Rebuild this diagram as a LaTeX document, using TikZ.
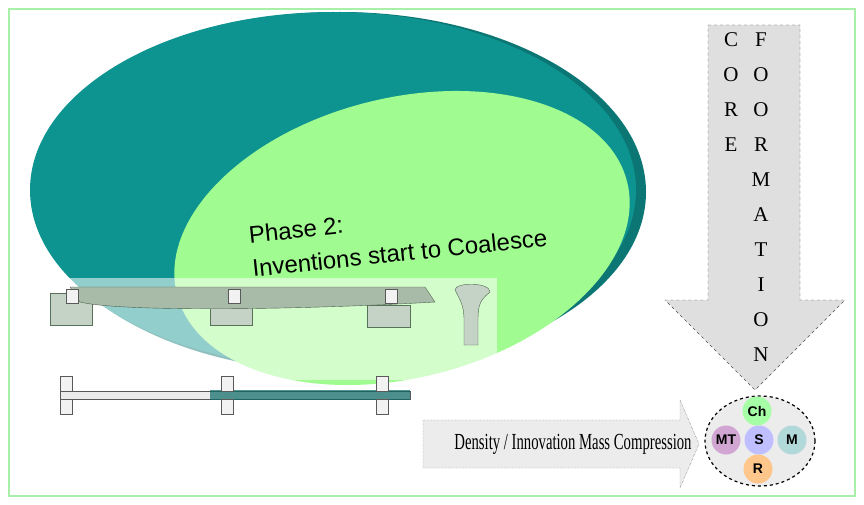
\documentclass[tikz,border=0pt]{standalone}
\usepackage{fontspec}
\setmainfont{Liberation Serif}
\setsansfont{Liberation Sans}
\usetikzlibrary{shapes.geometric,positioning}
\definecolor{frameg}{HTML}{A8F0A8}
\definecolor{tealc}{HTML}{0E9490}
\definecolor{lgreen}{HTML}{A0FC90}
\definecolor{railg}{HTML}{6E8E70}
\tikzset{
  ball/.style={circle,minimum size=29pt,inner sep=0pt,font=\sffamily\bfseries\fontsize{14}{14}\selectfont},
  letter/.style={font=\fontsize{21}{21}\selectfont},
  sleeper/.style={draw=railg!80!black,fill=railg!40},
  chair/.style={draw=gray!70!black,fill=gray!10},
}
\begin{document}
\begin{tikzpicture}[x=1pt,y=-1pt]
		\useasboundingbox (0,0) rectangle (864,505);
		\draw[frameg,line width=2pt] (9,9) rectangle (855,496);
		% ellipses
		\fill[tealc!80!black] (340,192) ellipse [x radius=306,y radius=180];
		\fill[tealc] (333,190) ellipse [x radius=303,y radius=178];
		\fill[lgreen] (402,238) [rotate around={14:(402,238)}] ellipse [x radius=232,y radius=140];
		\node[font=\sffamily\fontsize{24}{34}\selectfont,align=left,rotate=6] (phase) at (398,236)
			{Phase 2:\\Inventions start to Coalesce};
		% rails
		\fill[white,opacity=0.55] (48,278) rectangle (497,380);
		\draw[sleeper] (50,293) rectangle (92,325);
		\draw[sleeper] (210,305) rectangle (252,325);
		\draw[sleeper] (367,305) rectangle (410,327);
		\draw[railg!70!black,fill=railg!60] (70,287) -- (425,287) -- (435,302) .. controls (300,310) and (120,312) .. (80,302) -- cycle;
		\foreach \x in {66,228,385}
		\draw[chair] (\x,289) rectangle +(12,14);
		\draw[railg!70!black,fill=railg!40] (455,290) .. controls (455,282) and (490,282) .. (490,292)
			.. controls (480,300) and (478,305) .. (478,320) -- (478,345) -- (464,345) -- (464,320)
			.. controls (464,305) and (460,300) .. (455,290);
		\draw[gray!70!black,fill=gray!15] (60,391) rectangle (410,399);
		\fill[tealc!70!black,opacity=0.7] (210,390) rectangle (410,400);
		\foreach \x in {60,221,376}{
			\draw[chair] (\x,376) rectangle +(12,15);
			\draw[chair] (\x,399) rectangle +(12,15);
		}
		% core formation arrow
		\draw[black!70,dashed,fill=gray!25] (708,25) -- (800,25) -- (800,300) -- (845,300)
			-- (755,390) -- (665,300) -- (708,300) -- cycle;
		\foreach \c [count=\i] in {C,O,R,E}
		\node[letter] (c\i) at (731,5+35*\i) {\c};
		\foreach \c [count=\i] in {F,O,O,R,M,A,T,I,O,N}
		\node[letter] (f\i) at (761,5+35*\i) {\c};
		% compression arrow
		\draw[black!70,densely dotted,fill=gray!15] (423,420) -- (680,420) -- (680,400)
			-- (699,444) -- (680,488) -- (680,468) -- (423,468) -- cycle;
		\node[font=\fontsize{23}{23}\selectfont,xscale=0.64] (dtext) at (573,444)
			{Density / Innovation Mass Compression};
		% core
		\node[ellipse,draw,very thick,dashed,fill=gray!15,minimum width=110pt,minimum height=90pt] (coreE) at (760,441) {};
		\node[ball,fill=green!35] (ch) at (757,411) {Ch};
		\node[ball,fill=blue!25] (s) at (759,440) {S};
		\node[ball,fill=violet!35] (mt) at (726,440) {MT};
		\node[ball,fill=teal!30] (m) at (792,440) {M};
		\node[ball,fill=orange!45] (r) at (758,469) {R};
\end{tikzpicture}
\end{document}
